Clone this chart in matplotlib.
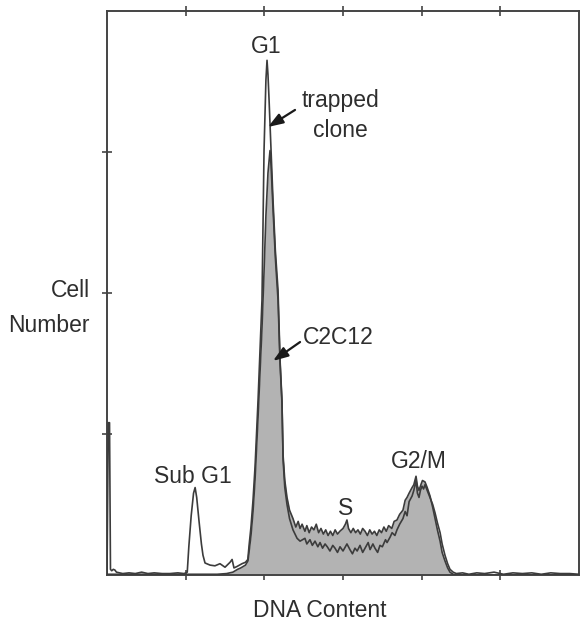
import matplotlib
matplotlib.use("Agg")
import matplotlib.pyplot as plt

plt.rcParams['font.family'] = ['Liberation Sans', 'DejaVu Sans']

# ---- data (channel = DNA content, count = cell number) ----
trapped_x = [0, 0.8, 1.6, 2.2, 3, 4, 5, 6, 8, 10, 14, 18, 22, 26, 30, 35, 40, 45, 49,
             51, 52, 53.5, 55, 56, 57, 58.5, 60, 61, 62.3, 65.5, 68.6, 71.8, 75, 78.2, 79.5,
             80.7, 82.6, 85.8, 88, 89.5, 90.3, 91.5, 92.8, 94.1, 96, 97.3, 98.5, 99.2, 99.8,
             100.5, 101, 101.7, 102.3, 103, 104.3, 105.5, 107, 108.7, 110, 111.2, 111.9, 113,
             114.4, 116, 118.2, 120.8, 122.7, 125.8, 127, 129, 130.5, 132.2, 134, 135.4, 137,
             138.6, 140, 141.7, 143.5, 144.9, 146.5, 148.1, 150, 152.5, 154.4, 156, 157.6, 159,
             160.8, 162.5, 164, 166, 167.2, 169, 170.3, 172, 173.5, 175, 177, 178, 180, 181.2,
             183, 184.3, 186, 188.1, 189.5, 190.7, 192, 193.9, 195, 196.4, 197.3, 198.3, 199.2,
             200.2, 201.2, 202.1, 203.5, 205.3, 207, 208.5, 210, 211.7, 213, 214.8, 216.5, 218,
             220, 222, 226, 230, 235, 240, 246, 252, 258, 264, 270, 276, 282, 288, 294, 300]
trapped_y = [0, 108, 108, 4, 3, 4, 3.5, 2, 1.5, 1, 1.5, 1, 2, 1, 1.5, 1, 1, 1.5, 1,
             2, 20, 42, 58, 62, 55, 38, 22, 14, 8.5, 7, 6.5, 8, 5.5, 9, 11,
             5, 6, 8, 9, 11, 21, 34, 53, 77, 124, 160, 195, 252, 301,
             330, 351, 365, 355, 337, 301, 266, 230, 202, 152, 124, 82, 62,
             50, 40, 32, 26, 24, 26, 22, 25, 21, 24, 20, 23, 19,
             22, 20, 17, 21, 19, 16, 20, 17, 22, 18, 15, 19, 17,
             21, 16, 19, 23, 18, 22, 19, 16, 21, 20, 25, 23, 27, 30,
             28, 32, 36, 40, 45, 42, 52, 56, 60, 67, 58, 55, 60,
             63, 61, 64, 60, 55, 50, 44, 37, 30, 22, 14, 8, 4,
             2, 1, 1.5, 0.5, 1.5, 1, 2, 0.5, 1.5, 1, 1.5, 0.5, 1.5, 1, 1, 0.5]

c2c12_x = [0, 10, 20, 30, 40, 50, 60, 70, 76, 80, 83, 85, 88, 89.6, 91.5, 92.8, 94.1,
           96, 97.3, 98.5, 99.8, 101, 102.3, 103.6, 104.3, 105.5, 107, 108.7, 110, 111.2,
           111.9, 113, 114.4, 116, 118.2, 120, 121.5, 122.7, 124, 125.8, 127, 128.5, 130,
           131.5, 133, 134.5, 136, 137.5, 139, 140.5, 142, 143.5, 145, 146.5, 148, 150,
           151.5, 152.5, 153.5, 155, 156.5, 158, 159.5, 161, 162.5, 164, 165.5, 167, 168.5,
           170, 171.5, 173, 174.5, 176, 177.5, 179, 181, 182.5, 184.3, 186, 188.1, 189.5,
           190.7, 192, 193.9, 195, 196.4, 197.3, 198.3, 199.5, 200.5, 202.1, 203.5, 205.3,
           207, 208.5, 210, 211.7, 213, 214.8, 216.5, 218, 220, 222, 300]
c2c12_y = [0.5, 0.5, 0.5, 0.5, 0.5, 0.5, 0.5, 0.5, 1, 2, 4, 5, 7, 10, 28, 45, 68,
           112, 145, 175, 215, 255, 285, 301, 290, 260, 225, 195, 150, 122,
           85, 67, 55, 46, 40, 34, 38, 33, 36, 31, 35, 30, 34,
           32, 36, 30, 33, 29, 32, 28, 31, 28, 32, 29, 31, 33,
           36, 39, 33, 30, 33, 30, 32, 29, 33, 31, 28, 32, 29,
           31, 28, 32, 30, 34, 31, 35, 33, 38, 39, 43, 46, 53,
           55, 58, 62, 64, 70, 63, 60, 64, 67, 66, 62, 56,
           48, 40, 32, 24, 16, 10, 5, 2, 0.5, 0, 0]

x_ticks = [50, 100, 150, 200, 250]
y_ticks = [100, 200, 300]

labels = {
    'G1': (101.1, 370.2),
    'Sub G1': (54.7, 65.2),
    'S': (151.9, 42.6),
    'G2/M': (198.3, 75.9),
}

# ---- figure ----
fig = plt.figure(figsize=(5.8, 6.22), dpi=100)
ax = fig.add_axes([0.1845, 0.0756, 0.8138, 0.9068])
ax.set_xlim(0, 300)
ax.set_ylim(0, 400)

line_col = '#3c3c3c'
ax.fill_between(c2c12_x, 0, c2c12_y, color='#b3b3b3', lw=0, zorder=2)
ax.plot(c2c12_x, c2c12_y, color=line_col, lw=1.2, zorder=3)
ax.plot(trapped_x, trapped_y, color=line_col, lw=1.2, zorder=4)

ax.set_xticks(x_ticks)
ax.set_yticks(y_ticks)
ax.tick_params(axis='both', which='both', direction='inout', length=7, width=1.2,
               color='#444444', labelbottom=False, labelleft=False,
               top=True, bottom=True, left=True, right=False)
for s in ax.spines.values():
    s.set_color('#444444')
    s.set_linewidth(1.4)

txt_col = '#2e2e2e'
fs = 16.5
for name, (lx, ly) in labels.items():
    ax.text(lx, ly, name, ha='center', va='baseline', fontsize=fs, color=txt_col, zorder=5)

ax.text(148.1, 331.9, 'trapped', ha='center', va='baseline', fontsize=fs, color=txt_col)
ax.text(148.1, 310.6, 'clone', ha='center', va='baseline', fontsize=fs, color=txt_col)
ax.text(146.8, 163.8, 'C2C12', ha='center', va='baseline', fontsize=fs, color=txt_col)

arrow = dict(arrowstyle='-|>,head_length=0.9,head_width=0.32', color='#1a1a1a',
             lw=1.6, mutation_scale=10, shrinkA=0, shrinkB=0)
ax.annotate('', xy=(102.3, 317.7), xytext=(119.5, 329.8), arrowprops=arrow, zorder=6)
ax.annotate('', xy=(105.5, 151.8), xytext=(122.7, 165.2), arrowprops=arrow, zorder=6)

ax.text(135.4, -29.8, 'DNA Content', ha='center', va='baseline', fontsize=fs,
        color=txt_col, clip_on=False)
ax.text(-10.8, 197.2, 'Cell', ha='right', va='baseline', fontsize=fs, color=txt_col, clip_on=False)
ax.text(-10.8, 172.3, 'Number', ha='right', va='baseline', fontsize=fs, color=txt_col, clip_on=False)

fig.savefig('out.png', dpi=100)
